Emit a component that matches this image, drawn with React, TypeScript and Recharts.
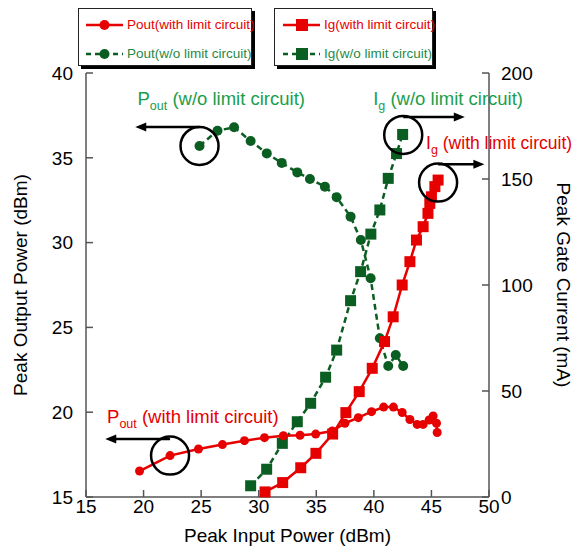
import React from 'react'
import {
  LineChart,
  Line,
  XAxis,
  YAxis,
  ReferenceDot,
  ReferenceLine
} from 'recharts'

// Pout with limit circuit (dBm vs dBm)
const poutLimitX = [19.65, 22.3, 24.77, 26.85, 28.76, 30.5, 32.14, 33.59, 34.95, 36.39, 37.49, 38.65, 39.8, 40.85, 41.7, 42.46, 43.13, 43.76, 44.28, 44.8, 45.15, 45.44, 45.5]
const poutLimitY = [16.53, 17.44, 17.83, 18.09, 18.32, 18.5, 18.61, 18.64, 18.71, 18.89, 19.35, 19.68, 20.03, 20.3, 20.3, 19.98, 19.57, 19.28, 19.28, 19.54, 19.78, 19.35, 18.8]

// Pout without limit circuit
const poutNoLimitX = [24.86, 26.42, 27.86, 29.3, 30.7, 32.0, 33.35, 34.45, 35.75, 36.77, 37.98, 38.87, 39.72, 40.52, 41.25, 41.9, 42.55]
const poutNoLimitY = [35.7, 36.6, 36.8, 35.99, 35.26, 34.7, 34.14, 33.75, 33.3, 32.67, 31.53, 30.15, 27.9, 24.36, 22.72, 23.37, 22.72]

// Ig with limit circuit (mA)
const igLimitX = [30.55, 32.08, 33.65, 34.97, 36.42, 37.57, 38.73, 39.86, 40.93, 41.68, 42.46, 43.13, 43.7, 44.28, 44.7, 44.86, 45.0, 45.3, 45.58]
const igLimitY = [2.4, 6.8, 13.8, 20.6, 29.7, 39.8, 49.7, 60.7, 73.3, 85, 100, 111, 121.2, 127.5, 133.8, 138.5, 141.6, 146.4, 149.5]

// Ig without limit circuit (mA)
const igNoLimitX = [29.3, 30.69, 32.05, 33.35, 34.51, 35.81, 36.77, 37.98, 38.85, 39.74, 40.52, 41.25, 41.97, 42.5]
const igNoLimitY = [5.3, 13.1, 25.3, 35.5, 44.2, 56.5, 69.3, 92.6, 106.3, 124, 135.4, 150.3, 162, 171]

const xTicks = [15, 20, 25, 30, 35, 40, 45, 50]
const leftTicks = [15, 20, 25, 30, 35, 40]
const rightTicks = [0, 50, 100, 150, 200]

const RED = '#e60000'
const GREEN = '#0b5e22'
const GREEN_TEXT = '#1a9e4c'
const FONT = '"Liberation Sans", Arial, sans-serif'

const toPoints = (xs: number[], ys: number[]) => xs.map((x, i) => ({ x, y: ys[i] }))

const poutLimit = toPoints(poutLimitX, poutLimitY)
const poutNoLimit = toPoints(poutNoLimitX, poutNoLimitY)
const igLimit = toPoints(igLimitX, igLimitY)
const igNoLimit = toPoints(igNoLimitX, igNoLimitY)

const legendLeft = [
  { name: 'Pout(with limit circuit)', color: RED, text: RED, dashed: false, square: false },
  { name: 'Pout(w/o limit circuit)', color: GREEN, text: '#1f8a45', dashed: true, square: false }
]
const legendRight = [
  { name: 'Ig(with limit circuit)', color: RED, text: RED, dashed: false, square: true },
  { name: 'Ig(w/o limit circuit)', color: GREEN, text: '#1f8a45', dashed: true, square: true }
]

const squareDot = (size: number, color: string) => (props: any) => {
  const { cx, cy, index } = props
  if (cx == null || cy == null) return <g key={index} />
  return <rect key={index} x={cx - size / 2} y={cy - size / 2} width={size} height={size} fill={color} />
}

// arrow with annotation text: label offset relative to arrow start
const arrowShape = (main: string, sub: string, rest: string, color: string, dx: number, dy: number, size = 18.5) => (props: any) => {
  const { x1, y1, x2, y2 } = props
  const dir = x2 > x1 ? 1 : -1
  return (
    <g>
      <line x1={x1} y1={y1} x2={x2 - dir * 8} y2={y2} stroke="#000" strokeWidth={2.5} />
      <polygon points={`${x2},${y2} ${x2 - dir * 11},${y2 - 4.5} ${x2 - dir * 11},${y2 + 4.5}`} fill="#000" />
      <text x={x1 + dx} y={y1 + dy} fill={color} fontSize={size} fontFamily={FONT}>
        <tspan>{main}</tspan>
        <tspan dy={5} fontSize={12.5}>{sub}</tspan>
        <tspan dy={-5}>{rest}</tspan>
      </text>
    </g>
  )
}

const LegendBox = ({ items, left, width, lineX, textX }: any) => (
  <div
    style={{
      position: 'absolute',
      left,
      top: 0,
      width,
      height: 56,
      border: '1.5px solid #222',
      boxShadow: '3px 3px 0 #000',
      background: '#fff',
      fontFamily: FONT,
      fontSize: 13.5
    }}
  >
    {items.map((it: any, i: number) => (
      <div key={it.name} style={{ position: 'absolute', left: 0, top: i === 0 ? 7 : 36, height: 18, width: '100%' }}>
        <svg width={40} height={18} style={{ position: 'absolute', left: lineX, top: 0 }}>
          <line x1={0} y1={9} x2={37} y2={9} stroke={it.color} strokeWidth={2.5} strokeDasharray={it.dashed ? '5 4' : undefined} />
          {it.square ? (
            <rect x={13} y={3} width={12} height={12} fill={it.color} />
          ) : (
            <circle cx={18.5} cy={9} r={5} fill={it.color} />
          )}
        </svg>
        <span style={{ position: 'absolute', left: textX, top: 0, lineHeight: '18px', color: it.text, whiteSpace: 'nowrap' }}>
          {it.name}
        </span>
      </div>
    ))}
  </div>
)

const tickStyle = { fontSize: 19, fill: '#000', fontFamily: FONT }

export default function App() {
  return (
    <div style={{ position: 'relative', width: 570, height: 541 }}>
      <LineChart width={570} height={541} margin={{ top: 65, right: 9, bottom: 7, left: 0 }}>
        <XAxis
          xAxisId="bottom"
          type="number"
          dataKey="x"
          domain={[15, 50]}
          ticks={xTicks}
          orientation="bottom"
          height={45}
          tickSize={-7}
          tickMargin={10}
          stroke="#555"
          strokeWidth={1.5}
          tick={tickStyle}
          label={(p: any) => (
            <text
              x={p.viewBox.x + p.viewBox.width / 2}
              y={p.viewBox.y + 38}
              textAnchor="middle"
              dominantBaseline="central"
              fontSize={19}
              fontFamily={FONT}
              fill="#000"
            >
              Peak Input Power (dBm)
            </text>
          )}
        />
        <XAxis
          xAxisId="top"
          type="number"
          dataKey="x"
          domain={[15, 50]}
          ticks={xTicks}
          orientation="top"
          height={0}
          tickSize={-7}
          tickFormatter={() => ''}
          stroke="#555"
          strokeWidth={1.5}
        />
        <YAxis
          yAxisId="left"
          type="number"
          domain={[15, 40]}
          ticks={leftTicks}
          width={78}
          tickSize={-7}
          tickMargin={20}
          stroke="#555"
          strokeWidth={1.5}
          tick={tickStyle}
          label={(p: any) => {
            const cx = p.viewBox.x + 12
            const cy = p.viewBox.y + p.viewBox.height / 2
            return (
              <text
                x={cx}
                y={cy}
                transform={`rotate(-90 ${cx} ${cy})`}
                textAnchor="middle"
                dominantBaseline="central"
                fontSize={19}
                fontFamily={FONT}
                fill="#000"
              >
                Peak Output Power (dBm)
              </text>
            )
          }}
        />
        <YAxis
          yAxisId="right"
          orientation="right"
          type="number"
          domain={[0, 200]}
          ticks={rightTicks}
          width={80}
          tickSize={-7}
          tickMargin={19}
          stroke="#555"
          strokeWidth={1.5}
          tick={tickStyle}
          label={(p: any) => {
            const cx = p.viewBox.x + 74
            const cy = p.viewBox.y + p.viewBox.height / 2
            return (
              <text
                x={cx}
                y={cy}
                transform={`rotate(90 ${cx} ${cy})`}
                textAnchor="middle"
                dominantBaseline="central"
                fontSize={19}
                fontFamily={FONT}
                fill="#000"
              >
                Peak Gate Current (mA)
              </text>
            )
          }}
        />

        <Line
          xAxisId="bottom"
          yAxisId="left"
          data={poutNoLimit}
          dataKey="y"
          stroke={GREEN}
          strokeWidth={2.5}
          strokeDasharray="6 4"
          dot={{ r: 5, fill: GREEN, stroke: 'none' }}
          isAnimationActive={false}
        />
        <Line
          xAxisId="bottom"
          yAxisId="right"
          data={igNoLimit}
          dataKey="y"
          stroke={GREEN}
          strokeWidth={2.5}
          strokeDasharray="6 4"
          dot={squareDot(11, GREEN)}
          isAnimationActive={false}
        />
        <Line
          xAxisId="bottom"
          yAxisId="right"
          data={igLimit}
          dataKey="y"
          stroke={RED}
          strokeWidth={2.5}
          dot={squareDot(11, RED)}
          isAnimationActive={false}
        />
        <Line
          xAxisId="bottom"
          yAxisId="left"
          data={poutLimit}
          dataKey="y"
          stroke={RED}
          strokeWidth={2.5}
          dot={{ r: 4.5, fill: RED, stroke: 'none' }}
          isAnimationActive={false}
        />

        <ReferenceDot xAxisId="bottom" yAxisId="left" x={24.86} y={35.7} r={19} fill="none" stroke="#000" strokeWidth={2.5} />
        <ReferenceDot xAxisId="bottom" yAxisId="left" x={22.3} y={17.44} r={19} fill="none" stroke="#000" strokeWidth={2.5} />
        <ReferenceDot xAxisId="bottom" yAxisId="right" x={42.55} y={170.8} r={19} fill="none" stroke="#000" strokeWidth={2.5} />
        <ReferenceDot xAxisId="bottom" yAxisId="right" x={45.58} y={148.3} r={19} fill="none" stroke="#000" strokeWidth={2.5} />

        <ReferenceLine
          xAxisId="bottom"
          yAxisId="left"
          segment={[{ x: 24.86, y: 36.82 }, { x: 19.28, y: 36.82 }]}
          shape={arrowShape('P', 'out', ' (w/o limit circuit)', GREEN_TEXT, -62, -22)}
        />
        <ReferenceLine
          xAxisId="bottom"
          yAxisId="left"
          segment={[{ x: 22.3, y: 18.42 }, { x: 16.67, y: 18.42 }]}
          shape={arrowShape('P', 'out', ' (with limit circuit)', RED, -63, -16)}
        />
        <ReferenceLine
          xAxisId="bottom"
          yAxisId="right"
          segment={[{ x: 42.55, y: 179.2 }, { x: 47.9, y: 179.2 }]}
          shape={arrowShape('I', 'g', ' (w/o limit circuit)', GREEN_TEXT, -30, -12)}
        />
        <ReferenceLine
          xAxisId="bottom"
          yAxisId="right"
          segment={[{ x: 45.58, y: 157 }, { x: 49.6, y: 157 }]}
          shape={arrowShape('I', 'g', ' (with limit circuit)', RED, -12, -15, 17.5)}
        />
      </LineChart>
      <LegendBox items={legendLeft} left={70} width={172} lineX={7} textX={48} />
      <LegendBox items={legendRight} left={266} width={157} lineX={8} textX={49} />
    </div>
  )
}
